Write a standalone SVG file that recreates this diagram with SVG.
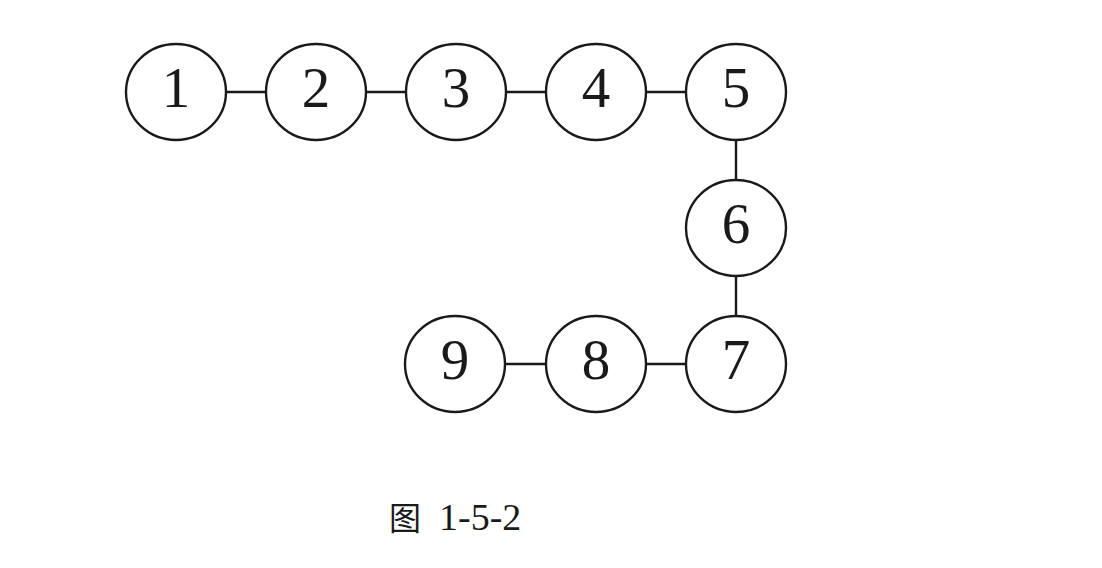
<svg xmlns="http://www.w3.org/2000/svg" width="1102" height="568" viewBox="0 0 1102 568">
<style>
.n ellipse{fill:#fff;stroke:#1a1a1a;stroke-width:2.4}
.n text{font-family:"Liberation Serif",serif;font-size:57px;fill:#1a1a1a;text-anchor:middle}
.e line{stroke:#1a1a1a;stroke-width:2.4}
.cap{font-family:"Liberation Serif","Noto Sans CJK SC",serif;fill:#1a1a1a}
</style>
<rect width="1102" height="568" fill="#fff"/>
<g id="connectors" class="e">
<line x1="225" y1="92" x2="265" y2="92"/>
<line x1="365" y1="92" x2="405" y2="92"/>
<line x1="505" y1="92" x2="545" y2="92"/>
<line x1="645" y1="92" x2="685" y2="92"/>
<line x1="736" y1="140" x2="736" y2="180"/>
<line x1="736" y1="276" x2="736" y2="316"/>
<line x1="505" y1="364" x2="545" y2="364"/>
<line x1="645" y1="364" x2="685" y2="364"/>
</g>
<g id="n1" class="n"><ellipse cx="176" cy="92" rx="50" ry="48"/><text x="176" y="107">1</text></g>
<g id="n2" class="n"><ellipse cx="316" cy="92" rx="50" ry="48"/><text x="316" y="107">2</text></g>
<g id="n3" class="n"><ellipse cx="456" cy="92" rx="50" ry="48"/><text x="456" y="107">3</text></g>
<g id="n4" class="n"><ellipse cx="596" cy="92" rx="50" ry="48"/><text x="596" y="107">4</text></g>
<g id="n5" class="n"><ellipse cx="736" cy="92" rx="50" ry="48"/><text x="736" y="107">5</text></g>
<g id="n6" class="n"><ellipse cx="736" cy="228" rx="50" ry="48"/><text x="736" y="243">6</text></g>
<g id="n7" class="n"><ellipse cx="736" cy="364" rx="50" ry="48"/><text x="736" y="379">7</text></g>
<g id="n8" class="n"><ellipse cx="596" cy="364" rx="50" ry="48"/><text x="596" y="379">8</text></g>
<g id="n9" class="n"><ellipse cx="455" cy="364" rx="50" ry="48"/><text x="455" y="379">9</text></g>
<text class="cap" x="389" y="530" font-size="32">图</text>
<text class="cap" x="439" y="530" font-size="38">1-5-2</text>
</svg>
